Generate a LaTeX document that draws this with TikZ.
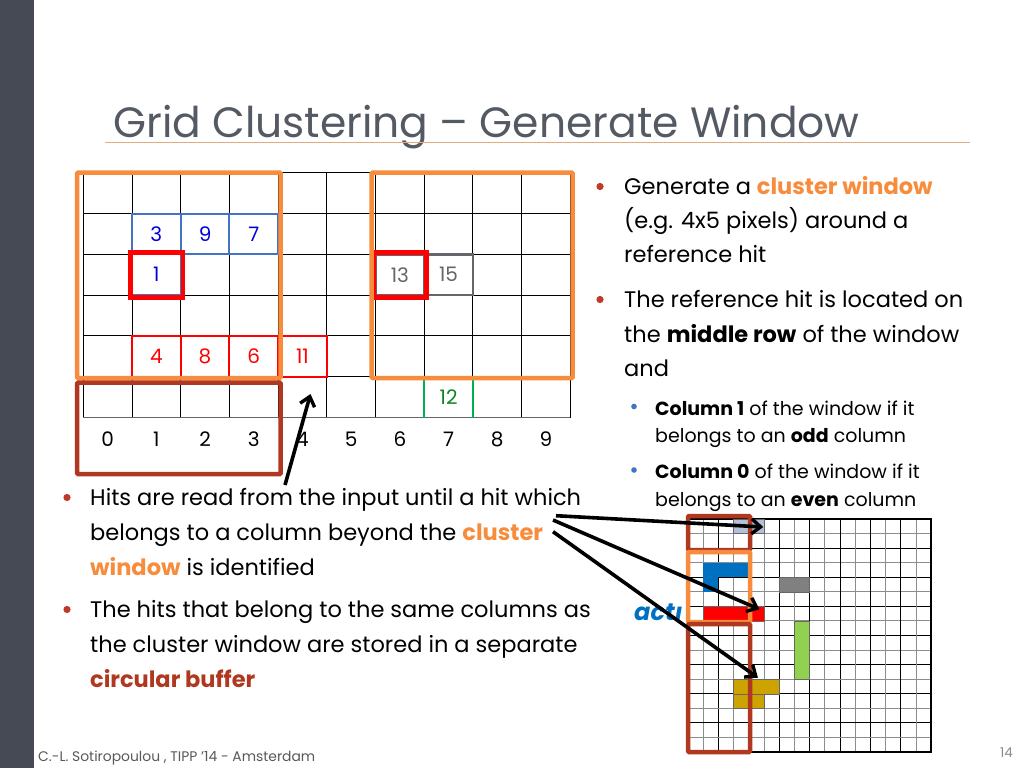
\documentclass[tikz,border=0pt]{standalone}
\usepackage{fontspec}
\setmainfont{Poppins}
\usetikzlibrary{arrows.meta}
\definecolor{darkbar}{RGB}{69,74,84}
\definecolor{titlegray}{RGB}{84,90,100}
\definecolor{rulecol}{RGB}{226,172,130}
\definecolor{winorange}{RGB}{247,140,60}
\definecolor{bufbrown}{RGB}{176,56,32}
\definecolor{dotred}{RGB}{192,57,43}
\definecolor{subblue}{RGB}{68,114,196}
\definecolor{hitblue}{RGB}{0,0,220}
\definecolor{hitred}{RGB}{255,0,0}
\definecolor{hitgray}{RGB}{100,102,108}
\definecolor{hitgreen}{RGB}{0,176,80}
\definecolor{numgreen}{RGB}{20,130,40}
\definecolor{footgray}{RGB}{89,89,89}
\definecolor{pxsteel}{RGB}{180,192,216}
\definecolor{pxblue}{RGB}{0,112,192}
\definecolor{pxgray}{RGB}{128,128,128}
\definecolor{pxgreen}{RGB}{146,208,80}
\definecolor{pxgold}{RGB}{204,163,0}
\begin{document}
\begin{tikzpicture}[x=1pt,y=-1pt,
  gridline/.style={black,line width=0.9},
  hitnum/.style={inner sep=0,font=\fontsize{20}{20}\selectfont},
  colnum/.style={inner sep=0,font=\fontsize{20}{20}\selectfont,text=black},
  bluecell/.style={draw=subblue,line width=2},
  redcell/.style={draw=hitred,line width=2},
  graycell/.style={draw=hitgray,line width=2.5},
  refhit/.style={draw=hitred,line width=4.5},
  window/.style={draw=winorange,line width=4.5,rounded corners=1},
  buffer/.style={draw=bufbrown,line width=4.5,rounded corners=1},
  bodytext/.style={anchor=base west,inner sep=0,font=\fontsize{22.5}{22.5}\selectfont},
  subtext/.style={anchor=base west,inner sep=0,font=\fontsize{19}{19}\selectfont},
  pointer/.style={black,line width=3.6,-{Straight Barb[length=9pt,width=15pt,line width=3.4pt]}},
]
\useasboundingbox (0,0) rectangle (1024,768);
\fill[white] (0,0) rectangle (1024,768);
\fill[darkbar] (0,0) rectangle (34,768);

% title
\node[anchor=base west,inner sep=0,text=titlegray,font=\fontsize{42.4}{42.4}\selectfont] (title) at (113,137) {Grid Clustering – Generate Window};
\draw[rulecol,line width=1.3] (105,142.5) -- (970,142.5);

% ---- main grid ----
\begin{scope}[shift={(83.3,172.7)},x=48.7pt,y=-40.8pt]
  \foreach \i in {0,...,10} \draw[gridline] (\i,0) -- (\i,6);
  \foreach \j in {0,...,5} \draw[gridline] (0,\j) -- (10,\j);
  \draw[gray!80!black,line width=1.2] (0,6) -- (10,6);
  % blue hits
  \foreach \c in {1,2,3} \draw[bluecell] (\c,1) rectangle (\c+1,2);
  \draw[bluecell] (1,2) rectangle (2,3);
  \node[hitnum,text=hitblue] (h3) at (1.5,1.5) {3};
  \node[hitnum,text=hitblue] (h9) at (2.5,1.5) {9};
  \node[hitnum,text=hitblue] (h7) at (3.5,1.5) {7};
  \node[hitnum,text=hitblue] (h1) at (1.5,2.5) {1};
  % red hits
  \foreach \c in {1,2,3,4} \draw[redcell] (\c,4) rectangle (\c+1,5);
  \node[hitnum,text=hitred] (h4) at (1.5,4.5) {4};
  \node[hitnum,text=hitred] (h8) at (2.5,4.5) {8};
  \node[hitnum,text=hitred] (h6) at (3.5,4.5) {6};
  \node[hitnum,text=hitred] (h11) at (4.5,4.5) {11};
  % gray hits
  \draw[graycell] (6,2) rectangle (7,3);
  \draw[graycell] (7,2) rectangle (8,3);
  \node[hitnum,text=hitgray] (h13) at (6.5,2.5) {13};
  \node[hitnum,text=hitgray] (h15) at (7.5,2.5) {15};
  % green hit
  \draw[hitgreen,line width=2] (7,5) -- (7,6) (8,5) -- (8,6);
  \node[hitnum,text=numgreen] (h12) at (7.5,5.5) {12};
  % column labels
  \foreach \c in {0,...,9} \node[colnum] (col\c) at (\c+0.5,6.53) {\c};
\end{scope}
% reference hits
\draw[refhit] (130.3,252.3) rectangle (182.8,297.3);
\draw[refhit] (374,252.3) rectangle (426.5,297.3);
% windows
\draw[window] (77,172.7) rectangle (280.7,378);
\draw[window] (371.7,172.7) rectangle (572.7,378);
\draw[buffer] (77,382.7) rectangle (280.7,474);
% pointer to column 4
\coordinate (ptail) at (285,485);
\coordinate (phead) at (310.5,394);
\draw[pointer] (ptail) -- (phead);

% ---- right bullets ----
\fill[dotred] (600,186.5) circle (3.6);
\node[bodytext] (rb1a) at (624,194) {Generate a \textcolor{winorange}{\textbf{cluster window}}};
\node[bodytext] (rb1b) at (624,228) {(e.g. 4x5 pixels) around a};
\node[bodytext] (rb1c) at (624,262) {reference hit};
\fill[dotred] (600,299.5) circle (3.6);
\node[bodytext] (rb2a) at (624,307.5) {The reference hit is located on};
\node[bodytext] (rb2b) at (624,342) {the \textbf{middle row} of the window};
\node[bodytext] (rb2c) at (624,376) {and};
\fill[subblue] (634,406.5) circle (2.8);
\node[subtext] (sb1a) at (655,415) {\textbf{Column 1} of the window if it};
\node[subtext] (sb1b) at (655,442.4) {belongs to an \textbf{odd} column};
\fill[subblue] (634,470) circle (2.8);
\node[subtext] (sb2a) at (655,478.6) {\textbf{Column 0} of the window if it};
\node[subtext] (sb2b) at (655,506) {belongs to an \textbf{even} column};

% ---- left bullets ----
\fill[dotred] (67,497.5) circle (3.6);
\node[bodytext] (lb1a) at (90,505) {Hits are read from the input until a hit which};
\node[bodytext] (lb1b) at (90,540) {belongs to a column beyond the \textcolor{winorange}{\textbf{cluster}}};
\node[bodytext] (lb1c) at (90,575) {\textcolor{winorange}{\textbf{window}} is identified};
\fill[dotred] (67,609.5) circle (3.6);
\node[bodytext] (lb2a) at (90,617) {The hits that belong to the same columns as};
\node[bodytext] (lb2b) at (90,652) {the cluster window are stored in a separate};
\node[bodytext] (lb2c) at (90,687) {\textcolor{bufbrown}{\textbf{circular buffer}}};

% partially hidden word
\node[anchor=base west,inner sep=0,text=pxblue,font=\fontsize{24}{24}\selectfont\bfseries\itshape] (act) at (634,620) {act\i};

% ---- small pixel grid ----
\fill[white] (684,515) rectangle (934,755);
\begin{scope}[shift={(688,519)},x=15.2pt,y=-14.56pt]
  \foreach \i in {0,...,16} {
    \pgfmathsetmacro{\g}{mod(\i,2)==0 ? 100 : 45}
    \draw[black!\g!white,line width=0.9] (\i,0) -- (\i,16);
    \draw[black!\g!white,line width=0.9] (0,\i) -- (16,\i);
  }
  \draw[black,line width=2.5] (0,0) -- (16,0) -- (16,16) -- (0,16);
  \fill[pxsteel,draw=black!60] (3,0) rectangle (5,1);
  \fill[pxblue] (1,3) rectangle (4,4);
  \fill[pxblue] (1,4) rectangle (2,5);
  \fill[hitred,draw=black!60] (1,6) rectangle (5,7);
  \fill[pxgray,draw=black!60] (6,4) rectangle (8,5);
  \fill[pxgreen,draw=black!60] (7,7) rectangle (8,11);
  \fill[pxgold,draw=black!60] (3,11) rectangle (6,12);
  \fill[pxgold,draw=black!60] (3,12) rectangle (5,13);
  \coordinate (tsteel) at (4.95,0.55);
  \coordinate (tred) at (4.7,6.2);
  \coordinate (tgold) at (4.6,10.9);
\end{scope}
\draw[buffer] (688,516) rectangle (750,550);
\draw[window] (688,552) rectangle (750,622);
\draw[buffer] (688,624) rectangle (750,752);

% pointers to the pixel grid
\coordinate (s1) at (556,515.7);
\coordinate (s2) at (553,520);
\coordinate (s3) at (553,531.7);
\draw[pointer] (s1) -- (tsteel);
\draw[pointer] (s2) -- (tred);
\draw[pointer] (s3) -- (tgold);

% footer
\node[anchor=base west,inner sep=0,text=footgray,font=\fontsize{13.9}{13.9}\selectfont] (foot) at (38,761) {C.-L. Sotiropoulou , TIPP '14 - Amsterdam};
\node[anchor=base east,inner sep=0,text=footgray!70,font=\fontsize{13.5}{13.5}\selectfont] (pgno) at (1013,757) {14};
\end{tikzpicture}
\end{document}
